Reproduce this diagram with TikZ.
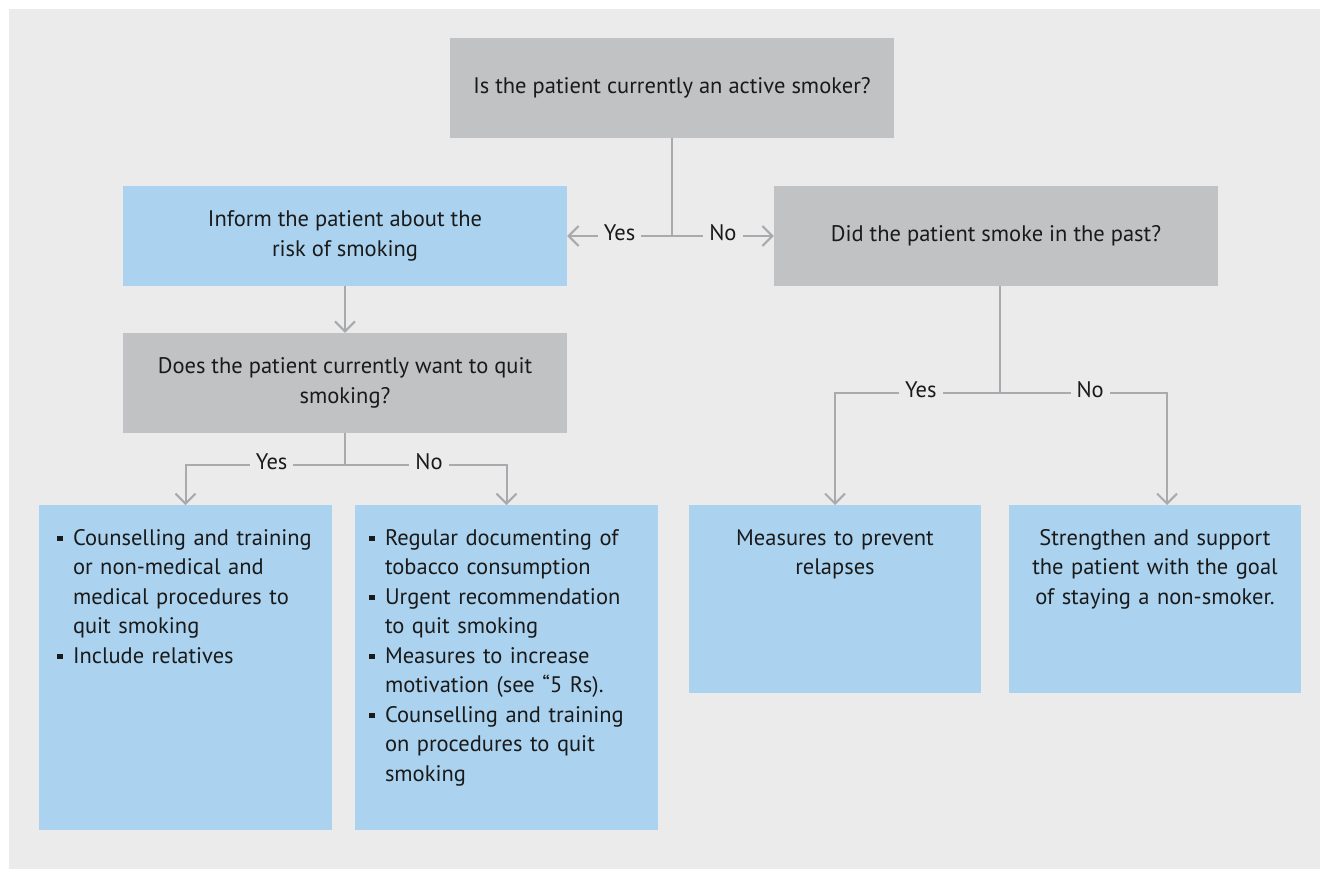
\documentclass[tikz,border=0pt]{standalone}
\usepackage{fontspec}
\setmainfont{PT Sans}
\usetikzlibrary{arrows.meta}

\definecolor{bgGray}{HTML}{EBEBEB}
\definecolor{boxGray}{HTML}{C1C2C4}
\definecolor{boxBlue}{HTML}{ABD3EF}
\definecolor{lineGray}{HTML}{A9AAAD}
\definecolor{inkBlack}{HTML}{1A1A1A}

% one bullet paragraph with hanging indent
\newcommand{\bitem}[1]{\noindent\hangindent=16pt\hangafter=1\makebox[16pt][l]{\rule[4pt]{5.5pt}{5.5pt}}#1\par}

\begin{document}
\begin{tikzpicture}[x=1pt, y=-1pt, >={Straight Barb[length=10pt,width=20pt]},
    every node/.style={text=inkBlack, font=\fontsize{22.5}{29.5}\selectfont},
    ask/.style={fill=boxGray, minimum width=444pt, minimum height=100pt, align=center, inner sep=0pt},
    info/.style={ask, fill=boxBlue},
    leaf/.style={fill=boxBlue, anchor=north, inner ysep=20pt, text height=20pt},
    link/.style={draw=lineGray, line width=2pt},
    lbl/.style={fill=bgGray, inner xsep=6pt, inner ysep=1pt, yshift=3pt}]

\useasboundingbox (0,0) rectangle (1320,868);
\fill[bgGray] (9,9) rectangle (1340,890);

\node[ask] at (672,88)   (active) {Is the patient currently an active smoker?};
\node[info] at (345,236) (inform) {Inform the patient about the\\risk of smoking};
\node[ask] at (996,236)  (past)   {Did the patient smoke in the past?};
\node[ask] at (345,383)  (quit)   {Does the patient currently want to quit\\smoking?};

\node[leaf, inner xsep=18pt, text width=257pt, text depth=265pt] at (185.5,505) (help) {%
  \bitem{Counselling and training\newline or non-medical and\newline medical procedures to\newline quit smoking}%
  \bitem{Include relatives}};
\node[leaf, inner xsep=14pt, text width=275pt, text depth=265pt] at (506.5,505) (urge) {%
  \bitem{Regular documenting of\newline tobacco consumption}%
  \bitem{Urgent recommendation\newline to quit smoking}%
  \bitem{Measures to increase\newline motivation (see “5 Rs).}%
  \bitem{Counselling and training\newline on procedures to quit\newline smoking}};
\node[leaf, inner xsep=14pt, text width=264pt, text depth=128pt, align=center] at (835,505) (relapse) {Measures to prevent\\relapses};
\node[leaf, inner xsep=14pt, text width=264pt, text depth=128pt, align=center] at (1155,505) (stay) {Strengthen and support\\the patient with the goal\\of staying a non-smoker.};

\coordinate (split) at (active.south |- inform.east);
\coordinate (fork)  at (345,465);
\coordinate (fork2) at (1000,393);
\coordinate (stayin) at ([xshift=12pt]stay.north);

\draw[link] (active) -- (split);
\draw[link, ->] (split) -- node[lbl] {Yes} (inform);
\draw[link, ->] (split) -- node[lbl] {No} (past);
\draw[link, ->] (inform) -- (quit);

\draw[link] (quit) -- (fork);
\draw[link, ->] (fork) -| node[lbl, pos=0.23] {Yes} (help);
\draw[link, ->] (fork) -| node[lbl, pos=0.26] {No} (urge);

\draw[link] (past.south -| fork2) -- (fork2);
\draw[link, ->] (fork2) -| node[lbl, pos=0.24] {Yes} (relapse);
\draw[link, ->] (fork2) -| node[lbl, pos=0.27] {No} (stayin);

\end{tikzpicture}
\end{document}
